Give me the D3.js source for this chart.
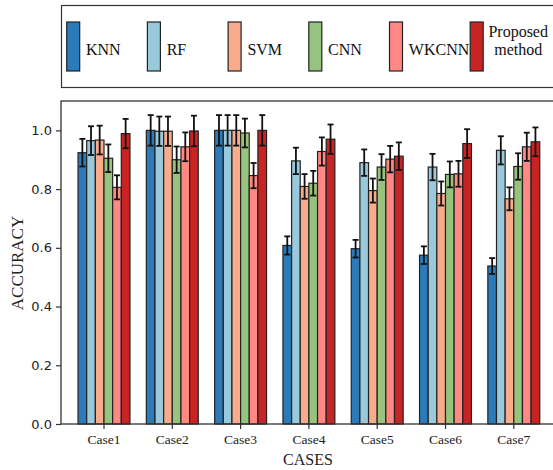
<!DOCTYPE html>
<html>
<head>
<meta charset="utf-8">
<script src="https://cdn.jsdelivr.net/npm/d3@7"></script>
<style>
  body { margin: 0; background: #fff; }
  svg { display: block; }
</style>
</head>
<body>
<svg id="chart" width="553" height="470"></svg>
<script>
const cases = ['Case1', 'Case2', 'Case3', 'Case4', 'Case5', 'Case6', 'Case7'];
const methods = ['KNN', 'RF', 'SVM', 'CNN', 'WKCNN', 'Proposed method'];
const colors = ['#2b7bba', '#9ac9db', '#f8ac8c', '#96c37d', '#ff8884', '#c82423'];

// accuracy per method, one value per case
const knn      = [0.924, 1.000, 1.000, 0.608, 0.597, 0.575, 0.538];
const rf       = [0.965, 0.997, 1.000, 0.896, 0.890, 0.875, 0.932];
const svm      = [0.967, 0.997, 1.000, 0.809, 0.795, 0.785, 0.767];
const cnn      = [0.905, 0.900, 0.991, 0.820, 0.875, 0.850, 0.877];
const wkcnn    = [0.806, 0.944, 0.846, 0.928, 0.902, 0.852, 0.944];
const proposed = [0.989, 0.998, 1.000, 0.970, 0.912, 0.955, 0.961];

// half-length of error bars
const knnErr      = [0.047, 0.052, 0.052, 0.031, 0.030, 0.030, 0.027];
const rfErr       = [0.049, 0.050, 0.052, 0.045, 0.045, 0.045, 0.048];
const svmErr      = [0.049, 0.050, 0.052, 0.042, 0.041, 0.041, 0.039];
const cnnErr      = [0.047, 0.045, 0.049, 0.042, 0.044, 0.044, 0.045];
const wkcnnErr    = [0.041, 0.049, 0.043, 0.048, 0.045, 0.044, 0.048];
const proposedErr = [0.050, 0.052, 0.052, 0.050, 0.047, 0.049, 0.049];

const yTicks = [0, 0.2, 0.4, 0.6, 0.8, 1.0];

const values = [knn, rf, svm, cnn, wkcnn, proposed];
const errors = [knnErr, rfErr, svmErr, cnnErr, wkcnnErr, proposedErr];

const svg = d3.select('#chart');
const serif = '"Liberation Serif", "Times New Roman", serif';
const sans = '"DejaVu Sans", sans-serif';

const plotLeft = 61, plotTop = 101, plotBottom = 424;
const step = 68.3, start = 69.85;

const x0 = d3.scaleBand()
    .domain(cases)
    .range([start, start + step * cases.length])
    .paddingInner(0.24)
    .paddingOuter(0.12);
const x1 = d3.scaleBand()
    .domain(methods)
    .range([0, x0.bandwidth()]);
const y = d3.scaleLinear().domain([0, 1.1]).range([plotBottom, plotTop]);

const rows = cases.flatMap((c, i) => methods.map((m, j) => ({
    c, m, j, v: values[j][i], e: errors[j][i]
})));

// legend box
svg.append('rect')
    .attr('x', plotLeft + 0.5).attr('y', 5.5)
    .attr('width', 600).attr('height', 82)
    .attr('fill', 'none').attr('stroke', '#333').attr('stroke-width', 1.2);

const leg = svg.append('g').selectAll('g').data(methods).enter().append('g')
    .attr('transform', (_, i) => `translate(${66.7 + i * 80.7}, 0)`);
leg.append('rect')
    .attr('x', 0).attr('y', 22)
    .attr('width', 13).attr('height', 49)
    .attr('fill', (_, i) => colors[i])
    .attr('stroke', '#222').attr('stroke-width', 1.2);
leg.filter(d => d !== 'Proposed method').append('text')
    .attr('x', 19.3).attr('y', 55)
    .style('font-family', serif).style('font-size', '16px')
    .attr('fill', '#111')
    .text(d => d);
const pm = leg.filter(d => d === 'Proposed method').append('text')
    .attr('text-anchor', 'middle')
    .style('font-family', serif).style('font-size', '16px')
    .attr('fill', '#111');
pm.append('tspan').attr('x', 48).attr('y', 36.7).text('Proposed');
pm.append('tspan').attr('x', 48).attr('y', 55).text('method');

// bars
const bars = svg.append('g');
bars.selectAll('rect').data(rows).enter().append('rect')
    .attr('x', d => x0(d.c) + x1(d.m))
    .attr('y', d => y(d.v))
    .attr('width', x1.bandwidth())
    .attr('height', d => y(0) - y(d.v))
    .attr('fill', d => colors[d.j])
    .attr('stroke', '#222').attr('stroke-width', 1.2);

// error bars
const cap = 3;
const eb = svg.append('g').attr('stroke', '#111').attr('stroke-width', 1.8);
const cx = d => x0(d.c) + x1(d.m) + x1.bandwidth() / 2;
eb.selectAll('.v').data(rows).enter().append('line')
    .attr('x1', cx).attr('x2', cx)
    .attr('y1', d => y(d.v - d.e)).attr('y2', d => y(d.v + d.e));
eb.selectAll('.t').data(rows).enter().append('line')
    .attr('x1', d => cx(d) - cap).attr('x2', d => cx(d) + cap)
    .attr('y1', d => y(d.v + d.e)).attr('y2', d => y(d.v + d.e));
eb.selectAll('.b').data(rows).enter().append('line')
    .attr('x1', d => cx(d) - cap).attr('x2', d => cx(d) + cap)
    .attr('y1', d => y(d.v - d.e)).attr('y2', d => y(d.v - d.e));

// frame (right edge falls outside the picture)
svg.append('rect')
    .attr('x', plotLeft).attr('y', plotTop)
    .attr('width', 600).attr('height', plotBottom - plotTop)
    .attr('fill', 'none').attr('stroke', '#333').attr('stroke-width', 1.3);

// axes
const yAxis = svg.append('g')
    .attr('transform', `translate(${plotLeft},0)`)
    .call(d3.axisLeft(y).tickValues(yTicks).tickFormat(d3.format('.1f')).tickSize(5).tickPadding(4));
yAxis.select('.domain').remove();
yAxis.selectAll('line').attr('stroke', '#333').attr('stroke-width', 1.2);
yAxis.selectAll('text')
    .style('font-family', sans).style('font-size', '13px').attr('fill', '#222');

const xAxis = svg.append('g')
    .attr('transform', `translate(0,${plotBottom})`)
    .call(d3.axisBottom(x0).tickSize(5).tickPadding(5));
xAxis.select('.domain').remove();
xAxis.selectAll('line').attr('stroke', '#333').attr('stroke-width', 1.2);
xAxis.selectAll('text')
    .style('font-family', serif).style('font-size', '13.5px').attr('fill', '#222');

// axis titles
svg.append('text')
    .attr('transform', `translate(23,263) rotate(-90)`)
    .attr('text-anchor', 'middle')
    .style('font-family', serif).style('font-size', '17px')
    .attr('fill', '#222')
    .text('ACCURACY');
svg.append('text')
    .attr('x', 308).attr('y', 465)
    .attr('text-anchor', 'middle')
    .style('font-family', serif).style('font-size', '16px')
    .attr('fill', '#222')
    .text('CASES');
</script>
</body>
</html>
